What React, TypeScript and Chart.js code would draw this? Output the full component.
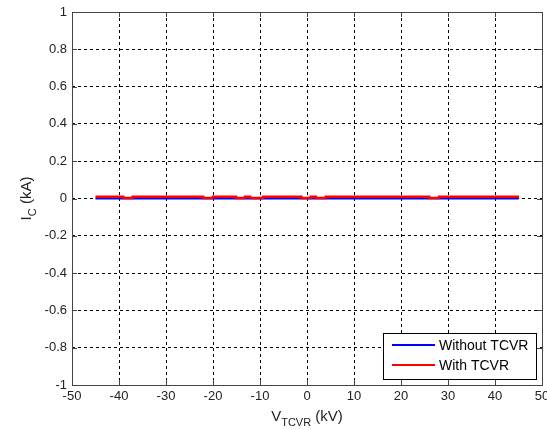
import React, { useEffect, useRef } from 'react';
import { Chart, registerables } from 'chart.js';

Chart.register(...registerables);

// Without TCVR (blue): flat at zero
const blueX = [-45, 45];
const blueY = [0, 0];

// With TCVR (red): small step-like offsets (each value holds until the next x)
const redX = [-45, -39.1, -37.1, -22.1, -20.0, -15.1, -13.2, -12.1, -9.3, -1.2, 0.8, 1.9, 4.0, 26.0, 28.1, 45.1];
const redY = [0.009, 0.003, 0.009, 0.003, 0.009, 0.003, 0.009, 0.003, 0.009, 0.003, 0.009, 0.003, 0.009, 0.003, 0.009, 0.009];

const seriesNames = ['Without TCVR', 'With TCVR'];
const seriesColors = ['#0000ff', '#ff0000'];

const xMin = -50, xMax = 50, xStep = 10;
const yMin = -1, yMax = 1, yStep = 0.2;

const FONT = '"Liberation Sans", Arial, sans-serif';
const AXIS_COLOR = '#444444';

const overlay = {
  id: 'overlay',
  afterDraw(chart: any) {
    const { ctx, chartArea } = chart;
    const { left, right, top, bottom } = chartArea;
    const xs = chart.scales.x;
    const ys = chart.scales.y;
    ctx.save();
    // box
    ctx.strokeStyle = AXIS_COLOR;
    ctx.lineWidth = 1;
    ctx.setLineDash([]);
    ctx.strokeRect(Math.round(left) + 0.5, Math.round(top) + 0.5, Math.round(right - left), Math.round(bottom - top));
    // inner tick marks
    const tl = 5;
    ctx.beginPath();
    xs.ticks.forEach((t: any) => {
      const px = Math.round(xs.getPixelForValue(t.value)) + 0.5;
      ctx.moveTo(px, bottom); ctx.lineTo(px, bottom - tl);
      ctx.moveTo(px, top); ctx.lineTo(px, top + tl);
    });
    ys.ticks.forEach((t: any) => {
      const py = Math.round(ys.getPixelForValue(t.value)) + 0.5;
      ctx.moveTo(left, py); ctx.lineTo(left + tl, py);
      ctx.moveTo(right, py); ctx.lineTo(right - tl, py);
    });
    ctx.stroke();

    // legend
    const lx = 383.5, ly = 333.5, lw = 153, lh = 46;
    ctx.fillStyle = '#ffffff';
    ctx.fillRect(lx, ly, lw, lh);
    ctx.strokeStyle = '#000000';
    ctx.strokeRect(lx, ly, lw, lh);
    ctx.font = `14px ${FONT}`;
    ctx.textBaseline = 'middle';
    ctx.textAlign = 'left';
    seriesNames.forEach((name, i) => {
      const yy = 345 + i * 20;
      ctx.strokeStyle = seriesColors[i];
      ctx.lineWidth = 2;
      ctx.beginPath();
      ctx.moveTo(392, yy); ctx.lineTo(435, yy);
      ctx.stroke();
      ctx.fillStyle = '#000000';
      ctx.fillText(name, 439, yy + 1);
    });

    // titles with subscripts
    const drawSub = (main: string, sub: string, rest: string, cx: number, baseline: number) => {
      const fMain = `15px ${FONT}`;
      const fSub = `11px ${FONT}`;
      ctx.font = fMain;
      const w1 = ctx.measureText(main).width;
      const w3 = ctx.measureText(rest).width;
      ctx.font = fSub;
      const w2 = ctx.measureText(sub).width;
      const total = w1 + w2 + w3;
      let x = cx - total / 2;
      ctx.textBaseline = 'alphabetic';
      ctx.textAlign = 'left';
      ctx.fillStyle = '#222222';
      ctx.font = fMain;
      ctx.fillText(main, x, baseline);
      x += w1;
      ctx.font = fSub;
      ctx.fillText(sub, x, baseline + 5);
      x += w2;
      ctx.font = fMain;
      ctx.fillText(rest, x, baseline);
    };
    drawSub('V', 'TCVR', ' (kV)', (left + right) / 2, 421);
    ctx.save();
    ctx.translate(31, (top + bottom) / 2);
    ctx.rotate(-Math.PI / 2);
    drawSub('I', 'C', ' (kA)', 0, 0);
    ctx.restore();
    ctx.restore();
  },
};

export default function App() {
  const ref = useRef<HTMLCanvasElement>(null);
  useEffect(() => {
    document.body.style.margin = '0';
    const canvas = ref.current;
    if (!canvas) return;
    const chart = new Chart(canvas, {
      type: 'scatter',
      data: {
        datasets: [
          {
            label: seriesNames[0],
            data: blueX.map((x, i) => ({ x, y: blueY[i] })),
            showLine: true,
            borderColor: seriesColors[0],
            backgroundColor: seriesColors[0],
            borderWidth: 2,
            pointRadius: 0,
            order: 2,
          },
          {
            label: seriesNames[1],
            data: redX.map((x, i) => ({ x, y: redY[i] })),
            showLine: true,
            stepped: 'before',
            borderColor: seriesColors[1],
            backgroundColor: seriesColors[1],
            borderWidth: 2.5,
            pointRadius: 0,
            order: 1,
          },
        ],
      },
      options: {
        responsive: false,
        animation: false,
        devicePixelRatio: 1,
        layout: { padding: { top: 12, right: 5, left: 0, bottom: 0 } },
        plugins: { legend: { display: false }, tooltip: { enabled: false } },
        scales: {
          x: {
            type: 'linear',
            min: xMin,
            max: xMax,
            ticks: {
              stepSize: xStep,
              color: '#222222',
              font: { family: FONT, size: 13 },
              padding: 4,
              maxRotation: 0,
              autoSkip: false,
            },
            grid: { color: '#000000', lineWidth: 1, drawTicks: false },
            border: { display: false, dash: [3, 3] },
            afterFit: (s: any) => {
              s.height = 45;
              s.paddingLeft = 0;
              s.paddingRight = 0;
            },
          },
          y: {
            type: 'linear',
            min: yMin,
            max: yMax,
            ticks: {
              stepSize: yStep,
              color: '#222222',
              font: { family: FONT, size: 13 },
              padding: 5,
              autoSkip: false,
              callback: (v: any) => String(Number(Number(v).toFixed(1))),
            },
            grid: { color: '#000000', lineWidth: 1, drawTicks: false },
            border: { display: false, dash: [3, 3] },
            afterFit: (s: any) => {
              s.width = 72;
              s.paddingTop = 0;
              s.paddingBottom = 0;
            },
          },
        },
      },
      plugins: [overlay],
    } as any);
    return () => chart.destroy();
  }, []);
  return <canvas ref={ref} width={547} height={430} style={{ display: 'block' }} />;
}
